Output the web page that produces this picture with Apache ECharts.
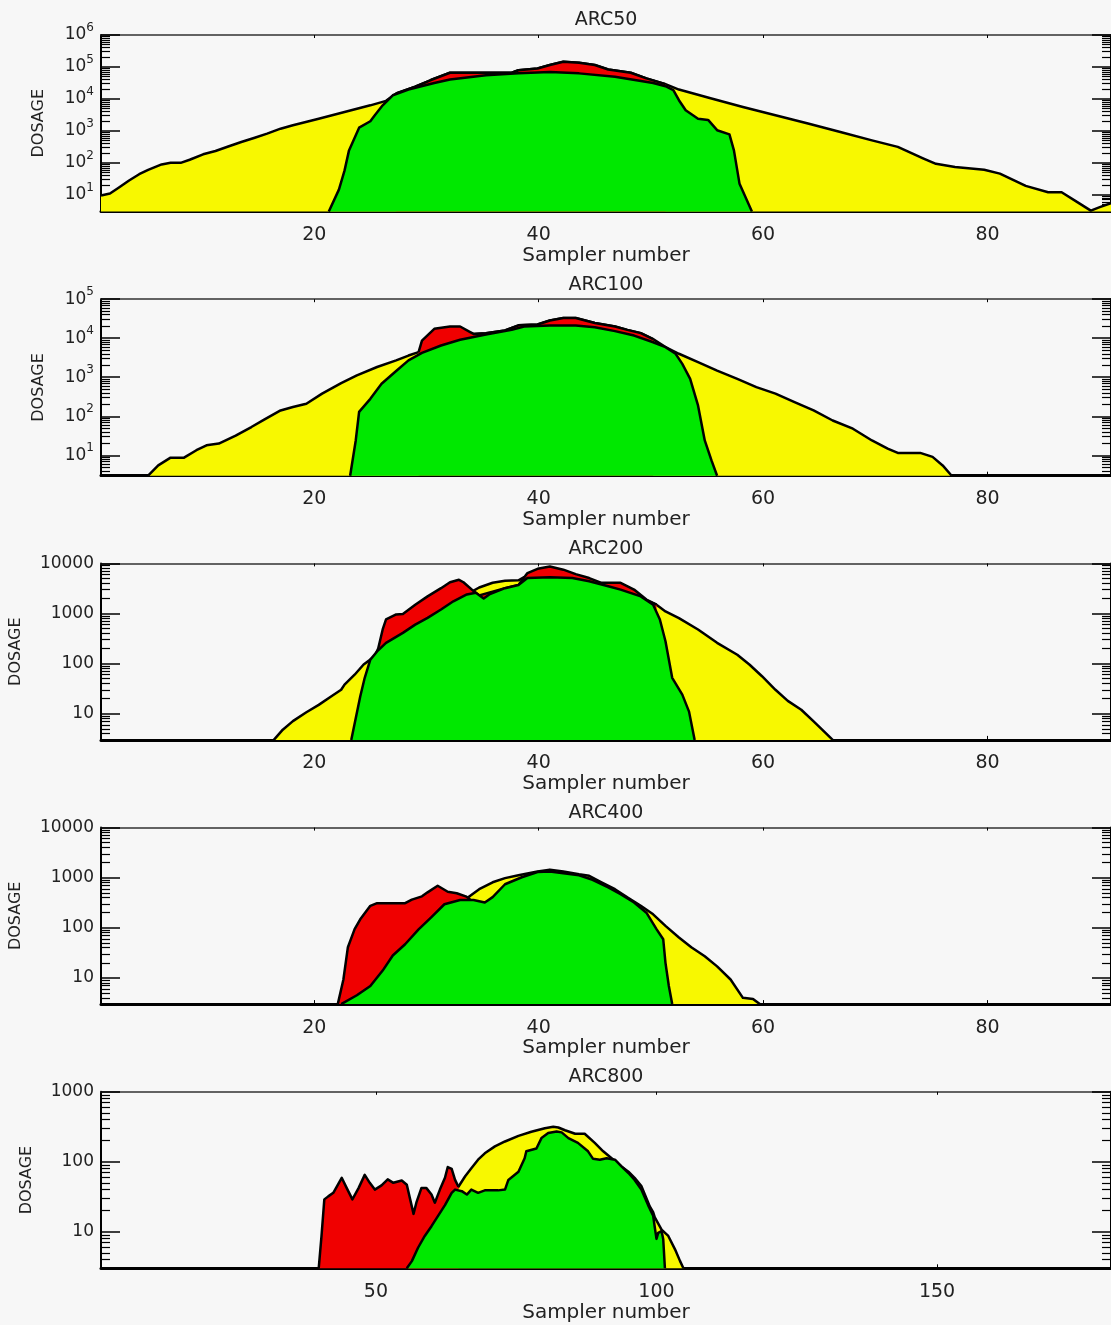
<!DOCTYPE html>
<html>
<head>
<meta charset="utf-8">
<script src="https://cdn.jsdelivr.net/npm/echarts@6/dist/echarts.min.js"></script>
<style>
html,body{margin:0;padding:0;background:#f7f7f7;}
#chart{width:1111px;height:1325px;}
</style>
</head>
<body>
<div id="chart"></div>
<script>
// ---------- data (sampler number, dosage) ----------
const panelTitles = ['ARC50', 'ARC100', 'ARC200', 'ARC400', 'ARC800'];
const xMaxValues = [91, 91, 91, 91, 181];
const xTickValues = [[20, 40, 60, 80], [20, 40, 60, 80], [20, 40, 60, 80], [20, 40, 60, 80], [50, 100, 150]];
const yMinValue = 3;
const yMaxValues = [1e6, 1e5, 1e4, 1e4, 1e3];
const yMajorTicks = [
  [10, 100, 1e3, 1e4, 1e5, 1e6],
  [10, 100, 1e3, 1e4, 1e5],
  [10, 100, 1000, 10000],
  [10, 100, 1000, 10000],
  [10, 100, 1000]
];
const ySuperscriptLabels = [true, true, false, false, false];

const arc50Yellow = [[1,9.5],[1.8,11],[2.6,17],[3.5,28],[4.4,44],[5.2,60],[6.4,89],[7.2,100],[8.1,100],[8.9,125],[10.1,185],[11.2,235],[12.4,330],[13.5,450],[14.7,610],[15.8,820],[17,1170],[18.1,1500],[20.4,2400],[22.7,3900],[25,6300],[26.4,8700],[27.3,14800],[29,24000],[30.4,39000],[32.1,66000],[37.6,66000],[38.2,79000],[39.9,89000],[41,115000],[42.2,145000],[43.6,135000],[45,115000],[46.2,83000],[48.2,66000],[49.6,44000],[51.3,29000],[52.5,19600],[55.4,10300],[58.2,5600],[61.1,3100],[64,1700],[66.8,940],[69.7,505],[72,315],[74.3,136],[75.4,93],[77.1,74],[79.7,61],[81.1,46],[83.4,19],[85.4,12],[86.6,12],[88,5.9],[89.2,3.2],[90,4.1],[91,5.5]];
const arc50Red = [[27.3,14800],[29,24000],[30.4,39000],[32.1,66000],[37.6,66000],[38.2,79000],[39.9,89000],[41,115000],[42.2,145000],[43.6,135000],[45,115000],[46.2,83000],[48.2,66000],[49.6,44000],[51.3,29000]];
const arc50Green = [[21.3,3],[22.2,14.5],[22.7,57],[23.1,245],[24,1260],[25,2000],[25.4,3100],[26.1,6300],[27,13000],[28.4,19600],[30.7,31500],[32.1,40500],[35.3,55000],[38.2,63000],[41,69000],[43.6,63000],[46.8,49000],[50.2,31500],[51.3,25000],[52,18800],[52.5,9100],[53.1,4400],[54.2,2400],[55.1,2200],[55.9,1050],[57,780],[57.4,245],[57.9,22],[59,3]];

const arc100Yellow = [[5.2,3],[6.1,5.5],[7.2,8.7],[8.4,8.7],[9.5,13.5],[10.4,18],[11.5,20],[13,32],[14.4,53],[15.5,81],[17,141],[18.1,173],[19.3,210],[20.7,380],[22.4,710],[23.8,1120],[25.6,1830],[27.3,2700],[28.4,3600],[29.3,4400],[34.2,12900],[35.3,13500],[37,15800],[38.2,21400],[39.9,22500],[41,28500],[42.2,33000],[43.3,33000],[45,24500],[46.8,20000],[47.9,16400],[49.1,13500],[50.2,9500],[51.3,5900],[52.5,4000],[54.2,2450],[55.9,1480],[57.7,910],[59.4,560],[61.1,380],[62.8,230],[64.5,141],[66.2,78],[68,48],[69.7,24],[71.1,14.8],[72,11.5],[74,11.5],[75.1,9.1],[76,5.5],[76.8,3]];
const arc100Red = [[29.3,4400],[29.6,8700],[30.7,17400],[32.1,20000],[33,20000],[33.9,14400],[34.2,12900],[35.3,13500],[37,15800],[38.2,21400],[39.9,22500],[41,28500],[42.2,33000],[43.3,33000],[45,24500],[46.8,20000],[47.9,16400],[49.1,13500],[50.2,9500]];
const arc100Green = [[23.2,3],[23.7,24],[24,130],[25,280],[26,680],[27.3,1450],[28.4,2700],[29.6,4200],[31.3,6500],[33,9100],[35.3,12500],[37.6,16400],[38.7,20000],[41,21200],[43.3,21200],[45,19000],[46.8,15200],[48.5,11700],[50.2,7900],[51.3,5900],[52.2,4000],[52.8,2200],[53.5,910],[54.2,190],[54.8,24],[55.4,7.4],[55.9,3]];

const arc200Yellow = [[16.4,3],[17.2,4.8],[18.1,7.1],[19.3,10.7],[20.4,15],[21.5,22],[22.4,30],[22.7,38],[23.6,60],[24.4,96],[25,120],[27.9,410],[31.3,1200],[33.6,2400],[34.7,3300],[35.9,4100],[37,4500],[38.2,4600],[38.7,5300],[41,5300],[43,5100],[44.5,4400],[47.3,3000],[50.5,1500],[51.3,1100],[52.5,810],[54.2,480],[55.9,260],[57.7,150],[58.8,95],[59.9,56],[61.1,30],[62.2,18],[63.4,12],[64.5,7],[65.4,4.5],[66.2,3]];
const arc200Red = [[25.3,130],[25.7,200],[26.1,480],[26.4,760],[27.3,960],[27.9,980],[29,1500],[30.1,2200],[31.3,3200],[32.1,4200],[32.9,4700],[33.3,4200],[34.2,2800],[34.7,2300],[37,3200],[38.2,3700],[39,6400],[39.9,7800],[41,8700],[42.2,7500],[43.3,6100],[44.5,5100],[45.6,4100],[47.3,4100],[48.5,3000],[49.6,1900],[50.5,1500]];
const arc200Green = [[23.3,3],[23.7,8.1],[24.1,22],[24.5,52],[25,120],[25.6,175],[26.4,260],[27.9,410],[29,600],[30.1,820],[31.3,1200],[32.4,1750],[33.6,2400],[34.4,2600],[35.1,2000],[35.6,2400],[37,3200],[38.2,3700],[39,5100],[41,5300],[43,5100],[44.5,4400],[46.2,3500],[47.3,3000],[49.1,2200],[50.2,1500],[50.8,760],[51.3,280],[51.9,52],[52.8,24],[53.4,11],[53.9,3]];

const arc400Yellow = [[22.4,3],[25,6.9],[27,28],[29.3,93],[31.6,295],[33,360],[33.6,390],[34.7,590],[35.9,810],[37,980],[38.2,1120],[39.9,1330],[41,1450],[42.2,1330],[43.6,1170],[44.5,1090],[45.6,810],[46.8,590],[47.9,405],[49.1,275],[50.2,186],[51.3,109],[52.5,64],[53.6,41],[54.8,27],[55.9,17],[57.1,9.3],[58.2,4],[59.1,3.8],[59.7,3]];
const arc400Red = [[22.1,3],[22.6,9.3],[23,41],[23.6,94],[24.1,148],[25,275],[25.6,310],[28.1,310],[28.7,365],[29.6,425],[30.1,510],[31,690],[31.9,525],[32.7,490],[33.5,425],[33.9,370]];
const arc400Green = [[22.4,3],[23.8,4.5],[25,6.9],[26.1,14],[27,28],[28.1,47],[29.3,93],[30.4,160],[31.6,295],[33,360],[34.2,360],[35.2,320],[35.9,410],[37,740],[38.5,1020],[39.9,1300],[41,1330],[42.2,1230],[43.6,1120],[44.8,910],[46.2,640],[47.3,470],[48.5,320],[49.6,200],[50.5,94],[51.1,59],[51.3,20],[51.6,6.9],[51.9,3]];

const arc800Yellow = [[55.5,3],[56.4,3.8],[57.5,5.9],[58.7,8.7],[59.9,12],[61.1,17],[62.3,24],[63.5,36],[64.1,40],[64.7,44],[65.9,62],[67,81],[68.2,107],[69.4,132],[71.2,166],[73,195],[75.4,234],[77.7,269],[80.1,302],[81.6,316],[82.5,309],[83.7,282],[85.5,251],[87.2,251],[89,186],[90.5,141],[92,112],[93.8,85],[95,72],[96.1,59],[97.3,45],[98.2,30],[98.8,23],[99.4,19],[99.7,16],[100.9,10.7],[102.1,8.7],[103.3,5.6],[104.2,3.8],[104.8,3]];
const arc800Red = [[39.8,3],[40.3,8.7],[40.8,29],[41.5,32],[42.4,36],[43.9,59],[44.8,42],[45.8,29],[46.9,42],[48,65],[48.9,50],[49.8,40],[51,46],[52.1,56],[53.1,50],[54.6,54],[55.5,47],[56.1,29],[56.7,18],[57.2,26],[58.1,42],[59,42],[59.9,34],[60.5,26],[61.4,40],[62.3,59],[62.8,84],[63.5,79],[64.1,55],[64.7,44]];
const arc800Green = [[55.5,3],[56.4,3.8],[57.5,5.9],[58.7,8.7],[59.9,12],[61.1,17],[62.3,24],[63.5,36],[64.1,40],[65.3,38],[66.2,34],[67,40],[68.2,36],[69.4,39],[71.8,39],[73,40],[73.6,55],[75.4,72],[76.5,112],[76.8,141],[78.6,155],[79.5,218],[80.7,257],[82.2,270],[83.1,263],[84.3,218],[86,186],[87.8,141],[88.7,110],[89.9,107],[91.1,112],[92.6,107],[93.8,85],[95,69],[96.1,55],[97.3,40],[98.5,24],[99.4,17],[99.7,11.5],[100,7.9],[100.3,9.6],[100.9,10.2],[101.2,7.8],[101.5,3]];

const yellowSeries = [arc50Yellow, arc100Yellow, arc200Yellow, arc400Yellow, arc800Yellow];
const redSeries = [arc50Red, arc100Red, arc200Red, arc400Red, arc800Red];
const greenSeries = [arc50Green, arc100Green, arc200Green, arc400Green, arc800Green];

// ---------- layout & style ----------
const FONT = 'DejaVu Sans';
const TEXT = '#222';
const COLORS = { yellow: '#f8f800', red: '#f00000', green: '#00e800' };
const GRID_TOP0 = 35, GRID_STEP = 264.2, GRID_H = 176.5;
const yNameGaps = [54, 54, 77, 77, 66];

function minorTicks(maxV) {
  const out = [];
  for (let d = 1; d < maxV; d *= 10) {
    for (let k = 2; k <= 9; k++) {
      const v = k * d;
      if (v >= yMinValue && v < maxV) out.push(v);
    }
  }
  return out;
}

const option = {
  backgroundColor: '#f7f7f7',
  animation: false,
  textStyle: { fontFamily: FONT },
  grid: [], xAxis: [], yAxis: [], series: []
};

panelTitles.forEach((title, i) => {
  option.grid.push({ left: 101, right: -3, top: GRID_TOP0 + GRID_STEP * i, height: GRID_H });
  const xb = option.xAxis.length;
  option.xAxis.push({
    gridIndex: i, type: 'value', position: 'bottom', min: 1, max: xMaxValues[i],
    axisLine: { onZero: false, lineStyle: { color: '#000', width: 3 } },
    axisTick: { inside: true, length: 4, customValues: xTickValues[i], lineStyle: { color: '#000', width: 1 } },
    axisLabel: { customValues: xTickValues[i], fontSize: 19, color: TEXT, margin: 14, fontFamily: FONT },
    splitLine: { show: false },
    name: 'Sampler number', nameLocation: 'middle', nameGap: 34,
    nameTextStyle: { fontSize: 20, color: TEXT, fontFamily: FONT }
  });
  option.xAxis.push({
    gridIndex: i, type: 'value', position: 'top', min: 1, max: xMaxValues[i],
    axisLine: { onZero: false, lineStyle: { color: '#333', width: 1.5 } },
    axisTick: { inside: true, length: 3, customValues: xTickValues[i], lineStyle: { color: '#000', width: 1 } },
    axisLabel: { show: false },
    splitLine: { show: false },
    name: title, nameLocation: 'middle', nameGap: 5,
    nameTextStyle: { fontSize: 19, color: TEXT, fontFamily: FONT }
  });
  const minor = minorTicks(yMaxValues[i]);
  const yb = option.yAxis.length;
  const base = { gridIndex: i, type: 'log', logBase: 10, min: yMinValue, max: yMaxValues[i], splitLine: { show: false } };
  const sup = ySuperscriptLabels[i];
  option.yAxis.push(Object.assign({}, base, {
    position: 'left',
    axisLine: { show: true, lineStyle: { color: '#000', width: 2 } },
    axisTick: { show: true, inside: true, length: 19, customValues: yMajorTicks[i], lineStyle: { color: '#000', width: 1.5 } },
    axisLabel: {
      show: true, customValues: yMajorTicks[i], fontSize: 17, color: TEXT, margin: 7, fontFamily: FONT,
      formatter: sup ? (v => '{b|10}{s|' + Math.round(Math.log10(v)) + '}') : (v => String(Math.round(v))),
      rich: sup ? {
        b: { fontSize: 17, color: TEXT, fontFamily: FONT },
        s: { fontSize: 12, color: TEXT, fontFamily: FONT, padding: [0, 0, 14, 0] }
      } : undefined
    },
    name: 'DOSAGE', nameLocation: 'middle', nameGap: yNameGaps[i],
    nameTextStyle: { fontSize: 16, color: TEXT, fontFamily: FONT }
  }));
  option.yAxis.push(Object.assign({}, base, {
    position: 'left',
    axisLine: { show: false },
    axisTick: { show: true, inside: true, length: 9, customValues: minor, lineStyle: { color: '#000', width: 1.2 } },
    axisLabel: { show: false }
  }));
  option.yAxis.push(Object.assign({}, base, {
    position: 'right',
    axisLine: { show: true, lineStyle: { color: '#000', width: 2 } },
    axisTick: { show: true, inside: true, length: 19, customValues: yMajorTicks[i], lineStyle: { color: '#000', width: 1.5 } },
    axisLabel: { show: false }
  }));
  option.yAxis.push(Object.assign({}, base, {
    position: 'right',
    axisLine: { show: false },
    axisTick: { show: true, inside: true, length: 9, customValues: minor, lineStyle: { color: '#000', width: 1.2 } },
    axisLabel: { show: false }
  }));

  const mk = (name, data, color, z) => ({
    name: name, type: 'line', xAxisIndex: xb, yAxisIndex: yb, data: data,
    symbol: 'none', showSymbol: false, smooth: false, clip: true, z: z,
    lineStyle: { color: '#000', width: 2.5, join: 'round' },
    areaStyle: { color: color, opacity: 1, origin: 'start' },
    emphasis: { disabled: true }
  });
  option.series.push(mk(title + ' yellow', yellowSeries[i], COLORS.yellow, 2));
  option.series.push(mk(title + ' red', redSeries[i], COLORS.red, 3));
  option.series.push(mk(title + ' green', greenSeries[i], COLORS.green, 4));
});

const chart = echarts.init(document.getElementById('chart'), null, { renderer: 'canvas' });
chart.setOption(option);
</script>
</body>
</html>
